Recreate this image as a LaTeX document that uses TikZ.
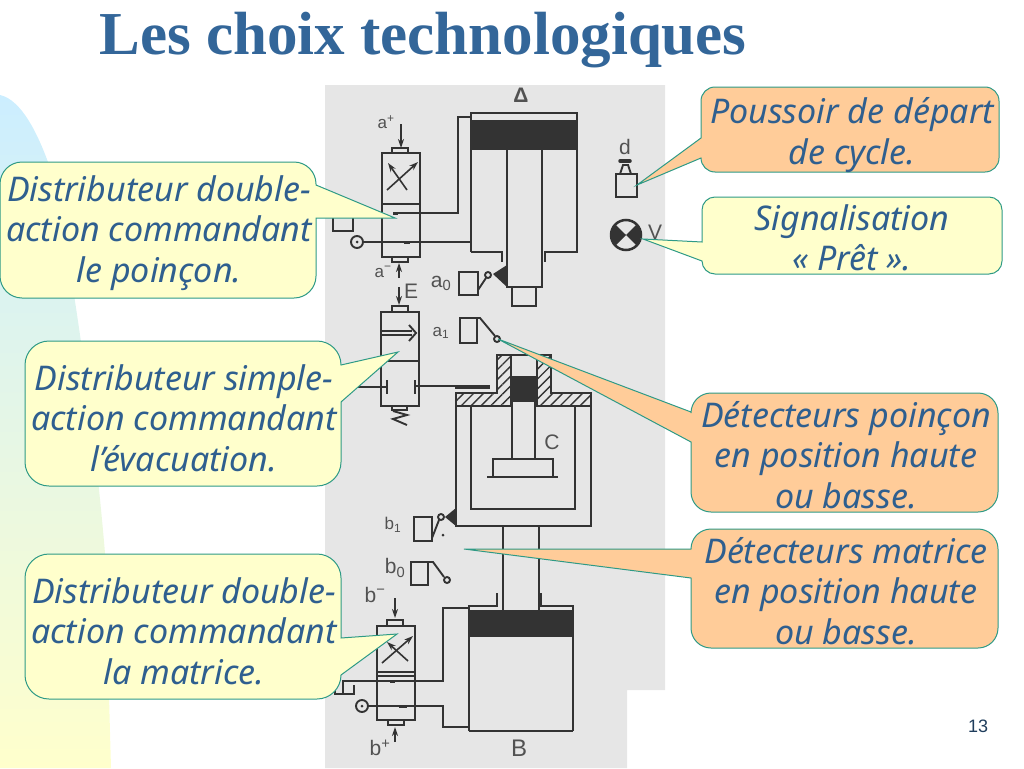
\documentclass[tikz,border=0pt]{standalone}
\usepackage{fontspec}
\setmainfont{Liberation Sans}
\newfontfamily\titlefont{Liberation Serif}
\newfontfamily\callfont{Noto Sans}
\usetikzlibrary{arrows.meta,patterns.meta}
\definecolor{titleblue}{HTML}{336699}
\definecolor{textblue}{HTML}{2F5F8F}
\definecolor{calloutline}{HTML}{2E9A86}
\definecolor{calloutyellow}{HTML}{FFFFCC}
\definecolor{calloutorange}{HTML}{FFCC99}
\definecolor{blobblue}{HTML}{CCEEFF}
\definecolor{blobyellow}{HTML}{FFFFCC}
\definecolor{photogray}{HTML}{E6E6E6}
\definecolor{inkgray}{HTML}{333333}
\begin{document}
\begin{tikzpicture}[x=1pt, y=-1pt, every node/.style={inner sep=0pt},
    ink/.style={draw=inkgray, line width=1.9pt},
    flow/.style={draw=inkgray, line width=1.6pt, -{Stealth[length=9pt,width=6pt]}},
    hatched/.style={ink, pattern={Lines[angle=45, distance=7pt, line width=1.4pt]}, pattern color=inkgray},
    yellowcall/.style={draw=calloutline, line width=1pt, fill=calloutyellow},
    orangecall/.style={draw=calloutline, line width=1pt, fill=calloutorange},
    calltext/.style={font=\callfont\itshape\fontsize{34}{40.5}\selectfont, text=textblue, align=center},
    partlabel/.style={font=\fontsize{17}{17}\selectfont, text=inkgray!85},
    biglabel/.style={font=\fontsize{21}{21}\selectfont, text=inkgray!85}]
  \useasboundingbox (0,0) rectangle (1024,768);

  % fond
  \shade[top color=blobblue, bottom color=blobyellow] (0,95) .. controls (22,100) and (38,135) .. (48,162)
    .. controls (66,225) and (92,400) .. (105,553) -- (111,768) -- (0,768) -- cycle;
  \fill[photogray] (325,85) -- (665,85) -- (665,690) -- (627,690) -- (627,768) -- (325,768) -- cycle;

  \node[font=\titlefont\bfseries\fontsize{61}{61}\selectfont, text=titleblue] (title) at (423,40) {Les choix technologiques};

  % verin A
  \draw[ink] (471,252) -- (471,113) -- (577,113) -- (577,252) -- (545,252) -- (545,262);
  \draw[ink] (471,252) -- (502,252) -- (502,262);
  \fill[inkgray] (471,120) rectangle (577,150);
  \draw[ink] (507,150) -- (507,287) -- (542,287) -- (542,150);
  \draw[ink] (512,287) -- (512,306) -- (536,306) -- (536,287);
  \draw[ink] (471,117) -- (458,117) -- (458,213) -- (393,213);
  \draw[ink] (363,242) -- (471,242);
  \node[biglabel, font=\bfseries\fontsize{21}{21}\selectfont] (lbldelta) at (521,95) {Δ};

  % distributeur a
  \draw[ink] (382,153) rectangle (420,257);
  \draw[ink] (382,204) -- (420,204);
  \draw[ink] (392,153) rectangle (408,148);
  \draw[ink] (392,257) rectangle (408,262);
  \draw[flow] (407,190) -- (388,163);
  \draw[flow] (387,190) -- (418,162);
  \draw[flow] (401,124) -- (401,148);
  \draw[flow] (399,278) -- (399,263);
  \draw[flow] (399,287) -- (399,305);
  \draw[line width=3pt, inkgray] (393,213) -- (398,213);
  \draw[line width=3pt, inkgray] (404,242) -- (410,242);
  \draw[ink] (333,214) -- (333,231) -- (353,231) -- (353,214);
  \draw[ink] (357,242) circle (6);
  \fill[inkgray] (357,242) circle (1.5);
  \node[partlabel] (lblaplus) at (386,122) {a\textsuperscript{+}};
  \node[partlabel] (lblaminus) at (383,272) {a\textsuperscript{−}};
  \node[biglabel] (lble) at (411,291) {E};

  % capteur a0
  \draw[ink] (459,272) rectangle (478,295);
  \draw[ink] (478,290) -- (486,278);
  \draw[ink] (488,275) circle (3);
  \fill[inkgray] (493,274) -- (507,265) -- (507,287) -- cycle;
  \node[biglabel] (lblazero) at (441,283) {a\textsubscript{0}};

  % poussoir d et voyant V
  \draw[ink] (616,174) rectangle (637,197);
  \draw[ink] (620,174) -- (623,165) -- (628,165) -- (631,174);
  \draw[line width=3.5pt, inkgray, line cap=round] (620,161) -- (630,161);
  \node[biglabel] (lbld) at (625,147) {d};
  \draw[draw=inkgray, line width=2.5pt, fill=photogray] (626,235) circle (15);
  \fill[inkgray] (626,235) -- (615,246) arc[start angle=135, end angle=225, radius=15.5] -- cycle;
  \fill[inkgray] (626,235) -- (637,224) arc[start angle=-45, end angle=45, radius=15.5] -- cycle;
  \node[biglabel] (lblv) at (655,232) {V};

  % distributeur E
  \draw[ink] (381,312) rectangle (419,406);
  \draw[ink] (381,361) -- (419,361);
  \draw[ink] (392,306) rectangle (408,312);
  \draw[ink] (381,331) -- (412,331);
  \draw[ink] (381,335) -- (412,335);
  \draw[ink] (409,325) -- (416,333) -- (409,341);
  \draw[ink] (355,387) -- (387,387);
  \draw[ink] (387,380) -- (387,394);
  \draw[ink] (415,380) -- (415,394);
  \draw[ink] (415,386) -- (455,386);
  \draw[line width=3.5pt, inkgray] (455,387) -- (490,387);
  \draw[ink] (392,406) rectangle (407,410);
  \draw[ink] (393,411) -- (407,415) -- (393,419) -- (407,425);
  \node[partlabel] (lblaone) at (441,333) {a\textsubscript{1}};

  % capteur a1
  \draw[ink] (460,318) rectangle (477,343);
  \draw[ink] (472,318) -- (480,318) -- (495,336);
  \draw[ink] (497,339) circle (3);

  % verin C
  \draw[ink] (456,406) -- (456,526) -- (591,526) -- (591,406);
  \draw[hatched] (456,393) -- (497,393) -- (497,355) -- (511,355) -- (511,406) -- (456,406) -- cycle;
  \draw[hatched] (591,393) -- (551,393) -- (551,355) -- (537,355) -- (537,406) -- (591,406) -- cycle;
  \draw[ink] (511,355) -- (537,355);
  \fill[inkgray] (511,376) rectangle (537,402);
  \draw[ink] (512,402) -- (512,459);
  \draw[ink] (535,402) -- (535,459);
  \draw[ink] (493,477) -- (493,459) -- (553,459) -- (553,477);
  \draw[ink] (487,477) -- (558,477);
  \draw[ink] (471,406) -- (471,509) -- (575,509) -- (575,406);
  \node[biglabel] (lblc) at (552,442) {C};

  % capteurs b1 et b0
  \draw[ink] (414,517) rectangle (432,541);
  \draw[ink] (432,538) -- (439,520);
  \draw[ink] (441,517) circle (3);
  \fill[inkgray] (445,517) -- (456,508) -- (456,526) -- cycle;
  \fill[inkgray] (443,535) circle (1.5);
  \node[partlabel] (lblbone) at (393,525) {b\textsubscript{1}};
  \draw[ink] (411,562) rectangle (428,585);
  \draw[ink] (428,562) -- (433,562) -- (444,577);
  \draw[ink] (447,580) circle (3);
  \node[biglabel] (lblbzero) at (395,568) {b\textsubscript{0}};

  % verin B
  \draw[ink] (503,526) -- (503,610);
  \draw[ink] (539,526) -- (539,610);
  \draw[ink] (469,731) -- (469,606) -- (497,606) -- (497,593);
  \draw[ink] (573,731) -- (573,606) -- (541,606) -- (541,593);
  \draw[ink] (469,731) -- (573,731);
  \fill[inkgray] (469,610) rectangle (573,637);
  \draw[ink] (469,608) -- (443,608) -- (443,681) -- (343,681) -- (343,693);
  \draw[ink] (368,706) -- (443,706) -- (443,727) -- (469,727);
  \draw[ink] (335,685) -- (335,694) -- (354,694) -- (354,685);
  \node[biglabel, font=\fontsize{24}{24}\selectfont] (lblb) at (519,748) {B};

  % distributeur b
  \draw[ink] (377,626) rectangle (415,720);
  \draw[ink] (377,672) -- (415,672);
  \draw[ink] (377,676) -- (415,676);
  \draw[ink] (387,620) rectangle (403,626);
  \draw[ink] (388,720) rectangle (404,725);
  \draw[flow] (382,663) -- (413,636);
  \draw[flow] (408,661) -- (387,642);
  \draw[flow] (395,598) -- (395,618);
  \draw[flow] (395,742) -- (395,727);
  \draw[line width=3pt, inkgray] (390,681) -- (395,681);
  \draw[line width=3pt, inkgray] (399,706) -- (407,706);
  \draw[ink] (362,706) circle (6);
  \fill[inkgray] (362,706) circle (1.5);
  \node[biglabel] (lblbminus) at (375,595) {b\textsuperscript{−}};
  \node[biglabel] (lblbplus) at (380,748) {b\textsuperscript{+}};

  % bulles a gauche
  \draw[yellowcall] (316,185) -- (395,218) -- (316,218) [rounded corners=22] -- (316,298) -- (0,298) -- (0,162) -- (316,162) [sharp corners] -- cycle;
  \node[calltext] (dblpoincon) at (159,233) {Distributeur double-\\action commandant\\le poinçon.};
  \draw[yellowcall] (341,365) -- (398,352) -- (341,402) [rounded corners=24] -- (341,486) -- (25,486) -- (25,341) -- (341,341) [sharp corners] -- cycle;
  \node[calltext] (simpleevac) at (184,418) {Distributeur simple-\\action commandant\\l’évacuation.};
  \draw[yellowcall] (341,638) -- (397,634) -- (341,675) [rounded corners=24] -- (341,699) -- (25,699) -- (25,554) -- (341,554) [sharp corners] -- cycle;
  \node[calltext] (dblmatrice) at (184,631) {Distributeur double-\\action commandant\\la matrice.};

  % bulles a droite
  \draw[orangecall] (701,138) -- (637,185) -- (701,158) [rounded corners=14] -- (701,172) -- (999,172) -- (999,87) -- (701,87) [sharp corners] -- cycle;
  \node[calltext] (poussoir) at (852,135) {Poussoir de départ\\de cycle.};
  \draw[yellowcall] (702,242) -- (643,239) -- (702,261) [rounded corners=13] -- (702,274) -- (1002,274) -- (1002,197) -- (702,197) [sharp corners] -- cycle;
  \node[calltext] (signal) at (852,238) {Signalisation\\« Prêt ».};
  \draw[orangecall] (691,412) -- (498,339) -- (691,442) [rounded corners=20] -- (691,512) -- (998,512) -- (998,393) -- (691,393) [sharp corners] -- cycle;
  \node[calltext] (detpoincon) at (846,455) {Détecteurs poinçon\\en position haute\\ou basse.};
  \draw[orangecall] (691,549) -- (464,549) -- (691,578) [rounded corners=20] -- (691,648) -- (998,648) -- (998,529) -- (691,529) [sharp corners] -- cycle;
  \node[calltext] (detmatrice) at (846,591) {Détecteurs matrice\\en position haute\\ou basse.};

  \node[font=\fontsize{18}{18}\selectfont, text=titleblue!60!black] (pagenum) at (978,726) {13};
\end{tikzpicture}
\end{document}
